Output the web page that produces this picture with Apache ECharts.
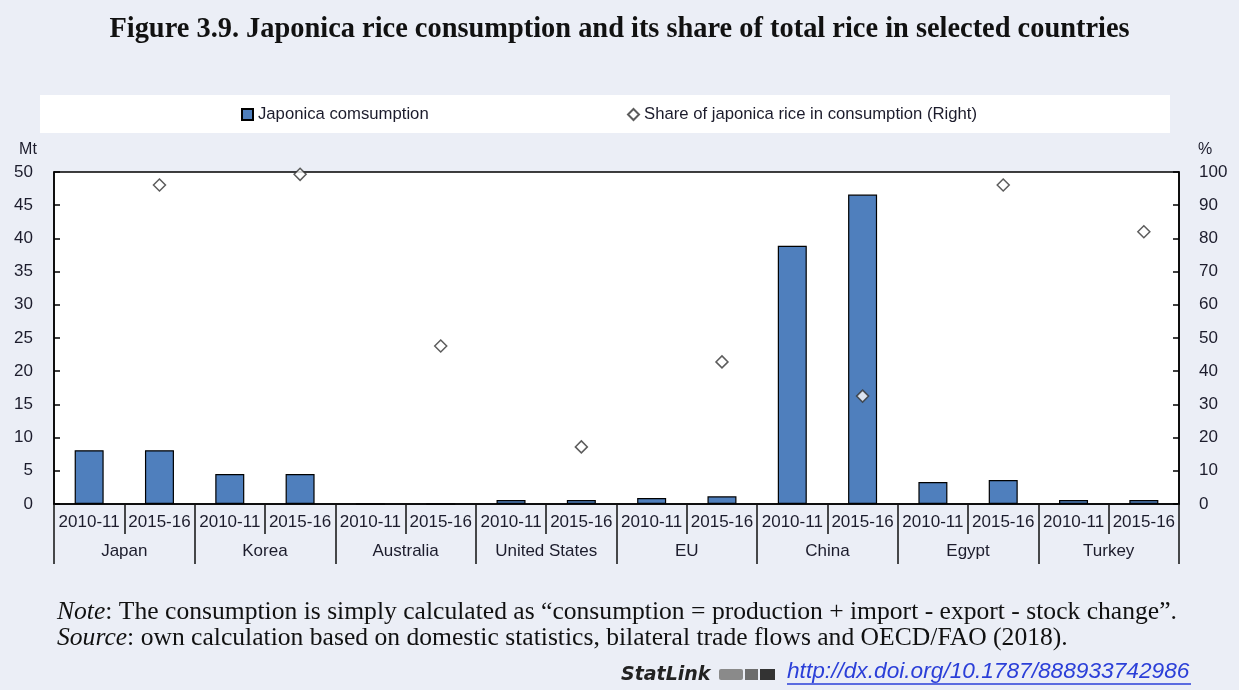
<!DOCTYPE html>
<html>
<head>
<meta charset="utf-8">
<script src="https://cdn.jsdelivr.net/npm/echarts@6/dist/echarts.min.js"></script>
<style>
  html, body { margin: 0; padding: 0; background: #ebeef6; }
  #chart { width: 1239px; height: 690px; }
</style>
</head>
<body>
<div id="chart"></div>
<script>
// data
var countries = ['Japan', 'Korea', 'Australia', 'United States', 'EU', 'China', 'Egypt', 'Turkey'];
var periods = ['2010-11', '2015-16'];
// Mt, one value per country and period
var consumption = [8.1, 8.1, 4.5, 4.5, 0, 0, 0.6, 0.6, 0.9, 1.15, 38.9, 46.6, 3.3, 3.6, 0.6, 0.6];
// %, share shown only for 2015-16
var share = [null, 96.1, null, 99.3, null, 47.6, null, 17.2, null, 42.8, null, 32.5, null, 96.1, null, 82];
var leftTicks = [0, 50, 5];
var rightTicks = [0, 100, 10];

var categories = [];
for (var i = 0; i < countries.length; i++) {
    for (var j = 0; j < periods.length; j++) {
        categories.push(periods[j]);
    }
}

var sans = "'Liberation Sans', Arial, sans-serif";
var serif = "'Liberation Serif', 'Times New Roman', serif";
var txt = '#1c1c2c';

var myChart = echarts.init(document.getElementById('chart'));

var option = {
    backgroundColor: '#ebeef6',
    animation: false,
    title: {
        text: 'Figure 3.9. Japonica rice consumption and its share of total rice in selected countries',
        left: 'center',
        top: 11,
        textStyle: { fontFamily: serif, fontWeight: 'bold', fontSize: 28.4, color: '#111' }
    },
    legend: [
        {
            data: [{ name: 'Japonica comsumption', icon: 'rect' }],
            left: 241, top: 106, padding: 0,
            itemWidth: 11, itemHeight: 11,
            textStyle: { fontFamily: sans, fontSize: 16.7, color: txt }
        },
        {
            data: ['Share of japonica rice in consumption (Right)'],
            left: 627, top: 106, padding: 0,
            itemWidth: 11, itemHeight: 11,
            textStyle: { fontFamily: sans, fontSize: 16.7, color: txt }
        }
    ],
    grid: {
        left: 54, right: 60, top: 172, bottom: 186,
        show: true, backgroundColor: '#fff', borderColor: '#000', borderWidth: 1.5
    },
    xAxis: [
        {
            type: 'category',
            data: categories,
            position: 'bottom',
            axisLine: { lineStyle: { color: '#000', width: 1.5 } },
            axisTick: { show: true, interval: 0, alignWithLabel: false, length: 30, lineStyle: { color: '#111', width: 1.5 } },
            axisLabel: { interval: 0, margin: 10, fontFamily: sans, fontSize: 17, color: txt }
        },
        {
            type: 'category',
            data: countries,
            position: 'bottom',
            axisLine: { show: false },
            axisTick: { show: true, interval: 0, alignWithLabel: false, length: 60, lineStyle: { color: '#111', width: 1.5 } },
            axisLabel: { interval: 0, margin: 39, fontFamily: sans, fontSize: 17, color: txt }
        }
    ],
    yAxis: [
        {
            type: 'value',
            min: leftTicks[0], max: leftTicks[1], interval: leftTicks[2],
            axisLine: { show: true, lineStyle: { color: '#000', width: 1.5 } },
            axisTick: { show: true, inside: true, length: 6, lineStyle: { color: '#000', width: 1.5 } },
            splitLine: { show: false },
            axisLabel: { margin: 21, fontFamily: sans, fontSize: 17, color: txt }
        },
        {
            type: 'value',
            position: 'right',
            min: rightTicks[0], max: rightTicks[1], interval: rightTicks[2],
            axisLine: { show: true, lineStyle: { color: '#000', width: 1.5 } },
            axisTick: { show: true, inside: true, length: 6, lineStyle: { color: '#000', width: 1.5 } },
            splitLine: { show: false },
            axisLabel: { margin: 20, fontFamily: sans, fontSize: 17, color: txt }
        }
    ],
    series: [
        {
            name: 'Japonica comsumption',
            type: 'bar',
            xAxisIndex: 0, yAxisIndex: 0,
            barWidth: 29,
            data: consumption,
            itemStyle: { color: '#4f7fbd', borderColor: '#000', borderWidth: 1.2 }
        },
        {
            name: 'Share of japonica rice in consumption (Right)',
            type: 'scatter',
            xAxisIndex: 0, yAxisIndex: 1,
            symbol: 'diamond',
            symbolSize: 12,
            z: 10,
            clip: false,
            data: share,
            itemStyle: { color: '#fff', borderColor: '#333', borderWidth: 1.5 }
        }
    ],
    graphic: [
        { type: 'rect', z: -1, shape: { x: 40, y: 95, width: 1130, height: 38 }, style: { fill: '#fff' } },
        { type: 'text', x: 28, y: 150, style: { text: 'Mt', fontFamily: sans, fontSize: 16, fill: txt, align: 'center', verticalAlign: 'middle' } },
        { type: 'text', x: 1205, y: 150, style: { text: '%', fontFamily: sans, fontSize: 16, fill: txt, align: 'center', verticalAlign: 'middle' } },
        {
            type: 'text', x: 57, y: 612,
            style: {
                text: '{i|Note}: The consumption is simply calculated as \u201cconsumption = production + import - export - stock change\u201d.',
                fontFamily: serif, fontSize: 25.6, fill: '#111', verticalAlign: 'middle',
                rich: { i: { fontFamily: serif, fontSize: 25.6, fontStyle: 'italic', fill: '#111' } }
            }
        },
        {
            type: 'text', x: 57, y: 638,
            style: {
                text: '{i|Source}: own calculation based on domestic statistics, bilateral trade flows and OECD/FAO (2018).',
                fontFamily: serif, fontSize: 25.6, fill: '#111', verticalAlign: 'middle',
                rich: { i: { fontFamily: serif, fontSize: 25.6, fontStyle: 'italic', fill: '#111' } }
            }
        },
        {
            type: 'text', x: 621, y: 675,
            style: { text: 'StatLink', fontFamily: "'DejaVu Sans', sans-serif", fontSize: 19, fontWeight: 'bold', fontStyle: 'italic', fill: '#222', verticalAlign: 'middle' }
        },
        { type: 'rect', shape: { x: 719, y: 669, width: 24, height: 11, r: 2 }, style: { fill: '#8a8a8a' } },
        { type: 'rect', shape: { x: 745, y: 669, width: 13, height: 11 }, style: { fill: '#6d6d6d' } },
        { type: 'rect', shape: { x: 760, y: 669, width: 15, height: 11 }, style: { fill: '#333' } },
        {
            type: 'text', x: 787, y: 672,
            style: { text: 'http://dx.doi.org/10.1787/888933742986', fontFamily: sans, fontSize: 22.7, fontStyle: 'italic', fill: '#2b3fd8', verticalAlign: 'middle' }
        },
        { type: 'line', shape: { x1: 787, y1: 684, x2: 1191, y2: 684 }, style: { stroke: '#2b3fd8', lineWidth: 1.5 } }
    ]
};

myChart.setOption(option);
</script>
</body>
</html>
